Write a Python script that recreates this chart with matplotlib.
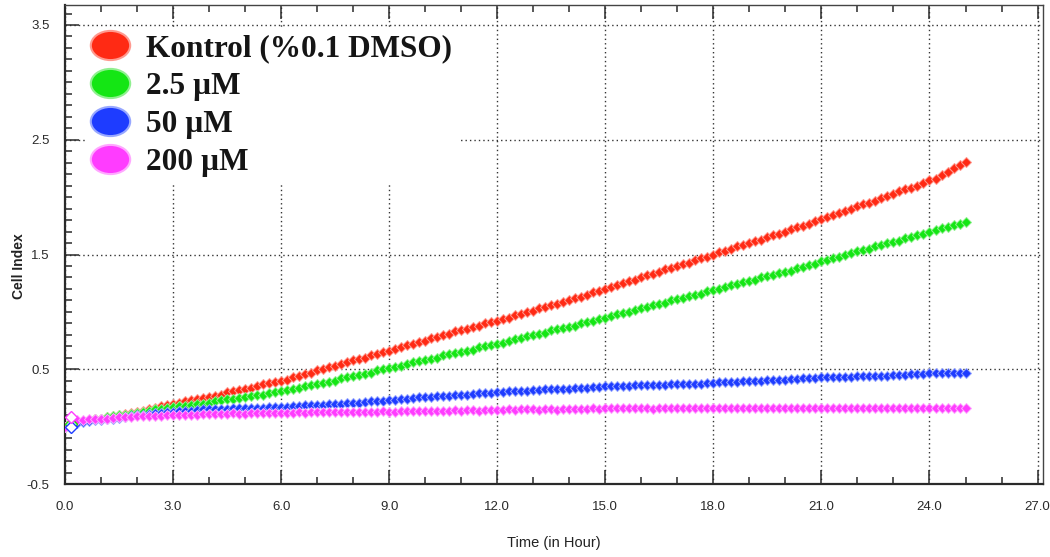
import matplotlib.pyplot as plt
import numpy as np
from matplotlib.lines import Line2D
from matplotlib.markers import MarkerStyle
from matplotlib.ticker import MultipleLocator
from matplotlib.transforms import Affine2D

plt.rcParams['font.family'] = ['Liberation Sans', 'DejaVu Sans']
plt.rcParams['axes.unicode_minus'] = False

# xCELLigence readout, one sweep every 10 minutes (0 .. 25 h)
sweep_min = 10

kontrol = [0.00, 0.02, 0.04, 0.05, 0.06, 0.065,
           0.07, 0.08, 0.09, 0.10, 0.11, 0.12,
           0.13, 0.14, 0.15, 0.16, 0.18, 0.19,
           0.20, 0.21, 0.22, 0.23, 0.24, 0.25,
           0.26, 0.27, 0.28, 0.30, 0.31, 0.32,
           0.33, 0.34, 0.35, 0.37, 0.38, 0.39,
           0.40, 0.41, 0.43, 0.44, 0.46, 0.47,
           0.49, 0.50, 0.52, 0.53, 0.55, 0.56,
           0.58, 0.59, 0.60, 0.62, 0.63, 0.65,
           0.66, 0.68, 0.69, 0.71, 0.72, 0.74,
           0.75, 0.77, 0.78, 0.80, 0.81, 0.83,
           0.84, 0.85, 0.87, 0.88, 0.90, 0.91,
           0.92, 0.94, 0.95, 0.97, 0.98, 1.00,
           1.01, 1.03, 1.04, 1.06, 1.07, 1.09,
           1.10, 1.12, 1.13, 1.15, 1.17, 1.18,
           1.20, 1.22, 1.23, 1.25, 1.27, 1.28,
           1.30, 1.32, 1.33, 1.35, 1.37, 1.38,
           1.40, 1.42, 1.43, 1.45, 1.47, 1.48,
           1.50, 1.52, 1.53, 1.55, 1.57, 1.58,
           1.60, 1.62, 1.63, 1.65, 1.67, 1.68,
           1.70, 1.72, 1.74, 1.75, 1.77, 1.79,
           1.81, 1.83, 1.84, 1.86, 1.88, 1.90,
           1.92, 1.94, 1.95, 1.97, 1.99, 2.01,
           2.03, 2.05, 2.07, 2.08, 2.10, 2.12,
           2.15, 2.16, 2.19, 2.22, 2.25, 2.28,
           2.31]

um_2_5 = [0.00, 0.02, 0.04, 0.05, 0.06, 0.065,
          0.07, 0.08, 0.09, 0.10, 0.10, 0.11,
          0.12, 0.13, 0.14, 0.15, 0.15, 0.16,
          0.17, 0.18, 0.18, 0.19, 0.20, 0.20,
          0.21, 0.22, 0.23, 0.24, 0.24, 0.25,
          0.26, 0.27, 0.28, 0.28, 0.29, 0.30,
          0.31, 0.32, 0.33, 0.34, 0.35, 0.36,
          0.37, 0.38, 0.39, 0.40, 0.42, 0.43,
          0.44, 0.45, 0.46, 0.47, 0.49, 0.50,
          0.51, 0.52, 0.53, 0.55, 0.56, 0.57,
          0.58, 0.59, 0.60, 0.62, 0.63, 0.64,
          0.65, 0.66, 0.67, 0.69, 0.70, 0.71,
          0.72, 0.73, 0.75, 0.76, 0.77, 0.79,
          0.80, 0.81, 0.82, 0.84, 0.85, 0.86,
          0.87, 0.88, 0.90, 0.91, 0.92, 0.94,
          0.95, 0.96, 0.98, 0.99, 1.00, 1.02,
          1.03, 1.04, 1.06, 1.07, 1.08, 1.10,
          1.11, 1.12, 1.14, 1.15, 1.16, 1.18,
          1.19, 1.20, 1.22, 1.23, 1.24, 1.26,
          1.27, 1.28, 1.30, 1.31, 1.32, 1.34,
          1.35, 1.36, 1.38, 1.39, 1.41, 1.42,
          1.44, 1.45, 1.47, 1.48, 1.50, 1.51,
          1.53, 1.54, 1.55, 1.57, 1.58, 1.60,
          1.61, 1.62, 1.64, 1.65, 1.67, 1.68,
          1.70, 1.71, 1.73, 1.74, 1.76, 1.77,
          1.78]

um_50 = [0.00, 0.00, 0.03, 0.04, 0.05, 0.055,
         0.06, 0.065, 0.07, 0.075, 0.08, 0.09,
         0.10, 0.105, 0.11, 0.115, 0.12, 0.125,
         0.13, 0.135, 0.14, 0.14, 0.145, 0.15,
         0.15, 0.15, 0.155, 0.155, 0.16, 0.16,
         0.16, 0.165, 0.165, 0.165, 0.17, 0.17,
         0.17, 0.175, 0.18, 0.18, 0.185, 0.185,
         0.19, 0.19, 0.195, 0.20, 0.20, 0.205,
         0.21, 0.21, 0.215, 0.22, 0.22, 0.225,
         0.23, 0.235, 0.24, 0.245, 0.25, 0.255,
         0.26, 0.26, 0.265, 0.27, 0.27, 0.275,
         0.28, 0.28, 0.285, 0.29, 0.29, 0.295,
         0.30, 0.305, 0.31, 0.31, 0.315, 0.315,
         0.32, 0.32, 0.325, 0.325, 0.33, 0.33,
         0.33, 0.335, 0.34, 0.34, 0.345, 0.345,
         0.35, 0.35, 0.355, 0.355, 0.355, 0.36,
         0.36, 0.36, 0.365, 0.365, 0.365, 0.37,
         0.37, 0.37, 0.375, 0.375, 0.375, 0.38,
         0.38, 0.385, 0.385, 0.39, 0.39, 0.395,
         0.40, 0.40, 0.40, 0.405, 0.405, 0.41,
         0.41, 0.415, 0.415, 0.42, 0.42, 0.425,
         0.43, 0.43, 0.43, 0.435, 0.435, 0.435,
         0.44, 0.44, 0.44, 0.445, 0.445, 0.445,
         0.45, 0.45, 0.45, 0.455, 0.455, 0.46,
         0.465, 0.465, 0.465, 0.465, 0.465, 0.465,
         0.465]

um_200 = [0.00, 0.08, 0.06, 0.06, 0.065, 0.065,
          0.07, 0.07, 0.075, 0.08, 0.08, 0.085,
          0.09, 0.09, 0.09, 0.095, 0.095, 0.10,
          0.10, 0.10, 0.10, 0.105, 0.105, 0.11,
          0.11, 0.11, 0.11, 0.11, 0.115, 0.11,
          0.11, 0.115, 0.115, 0.12, 0.115, 0.12,
          0.12, 0.12, 0.12, 0.125, 0.12, 0.125,
          0.125, 0.125, 0.13, 0.125, 0.13, 0.13,
          0.13, 0.13, 0.125, 0.13, 0.13, 0.135,
          0.13, 0.13, 0.135, 0.14, 0.135, 0.14,
          0.135, 0.14, 0.14, 0.14, 0.14, 0.145,
          0.14, 0.145, 0.145, 0.14, 0.145, 0.145,
          0.145, 0.145, 0.15, 0.145, 0.15, 0.15,
          0.15, 0.145, 0.15, 0.15, 0.145, 0.15,
          0.15, 0.155, 0.15, 0.155, 0.16, 0.155,
          0.16, 0.165, 0.16, 0.16, 0.165, 0.16,
          0.16, 0.16, 0.155, 0.16, 0.165, 0.16,
          0.165, 0.165, 0.16, 0.165, 0.165, 0.16,
          0.165, 0.16, 0.16, 0.165, 0.165, 0.16,
          0.165, 0.16, 0.165, 0.16, 0.16, 0.165,
          0.165, 0.16, 0.16, 0.165, 0.16, 0.16,
          0.165, 0.16, 0.165, 0.16, 0.165, 0.16,
          0.16, 0.165, 0.16, 0.16, 0.165, 0.16,
          0.16, 0.16, 0.165, 0.16, 0.16, 0.165,
          0.16, 0.165, 0.16, 0.16, 0.165, 0.16,
          0.16]

labels = ['Kontrol (%0.1 DMSO)', '2.5 µM', '50 µM', '200 µM']
colors = ['#ff2a14', '#14e614', '#1e3cff', '#ff3cff']
edge_colors = ['#ff9a90', '#90f090', '#98a8ff', '#ffa8ff']

x_ticks = [0, 3, 6, 9, 12, 15, 18, 21, 24, 27]
y_ticks = [-0.5, 0.5, 1.5, 2.5, 3.5]

fig = plt.figure(figsize=(10.5, 5.57), dpi=100)
ax = fig.add_axes([0.0619, 0.131, 0.9314, 0.860])

series = [kontrol, um_2_5, um_50, um_200]
for vals, c, ec in zip(series, colors, edge_colors):
    t = np.arange(len(vals)) * sweep_min / 60.0
    ax.plot(t, vals, linestyle='none', marker='D', markersize=4.6,
            markerfacecolor=c, markeredgecolor=ec, markeredgewidth=0.7, zorder=3)
    # normalisation point drawn hollow
    ax.plot(t[1], vals[1], linestyle='none', marker='D', markersize=6,
            markerfacecolor='white', markeredgecolor=c, markeredgewidth=1.0, zorder=4)

ax.set_xlim(0, 27.15)
ax.set_ylim(-0.5, 3.674)
ax.set_xticks(x_ticks)
ax.set_xticklabels(['%.1f' % v for v in x_ticks])
ax.set_yticks(y_ticks)
ax.set_yticklabels(['%.1f' % v for v in y_ticks])
ax.xaxis.set_minor_locator(MultipleLocator(1))
ax.yaxis.set_minor_locator(MultipleLocator(0.1))

ax.tick_params(axis='both', which='both', direction='in', colors='#2a2a2a',
               labelsize=9.5, width=1.1)
ax.tick_params(axis='x', which='major', length=10, pad=12, top=True)
ax.tick_params(axis='x', which='minor', length=5, top=True)
ax.tick_params(axis='y', which='major', length=10, pad=11, right=False)
ax.tick_params(axis='y', which='minor', length=5, right=False)

for s in ['left', 'bottom']:
    ax.spines[s].set_linewidth(1.6)
    ax.spines[s].set_color('#2a2a2a')
for s in ['top', 'right']:
    ax.spines[s].set_linewidth(1.0)
    ax.spines[s].set_color('#444444')

ax.grid(True, which='major', color='#333333', linestyle=(0, (1, 2.2)), linewidth=1.0)
ax.set_axisbelow(True)

ax.set_xlabel('Time (in Hour)', fontsize=10.5, color='#222222')
ax.xaxis.set_label_coords(0.5, -0.108)
ax.set_ylabel('Cell Index', fontsize=10, fontweight='bold', color='#222222')
ax.yaxis.set_label_coords(-0.040, 0.455)

oval = MarkerStyle('o', transform=Affine2D().scale(1.35, 1.0))
handles = [Line2D([], [], linestyle='none', marker=oval, markersize=21,
                  markerfacecolor=c, markeredgecolor=ec, markeredgewidth=1.5)
           for c, ec in zip(colors, edge_colors)]
leg = ax.legend(handles, labels, loc='upper left', bbox_to_anchor=(0.0204, 0.952),
                borderaxespad=0, borderpad=0.2, handlelength=1.2, handletextpad=0.55,
                labelspacing=0.28, frameon=True, fancybox=False,
                prop={'family': 'Liberation Serif', 'weight': 'bold', 'size': 22.5})
leg.get_frame().set_facecolor('white')
leg.get_frame().set_edgecolor('none')
leg.get_frame().set_alpha(1.0)
for txt in leg.get_texts():
    txt.set_color('#151515')
leg.set_zorder(5)

fig.savefig('out.png', dpi=100)
